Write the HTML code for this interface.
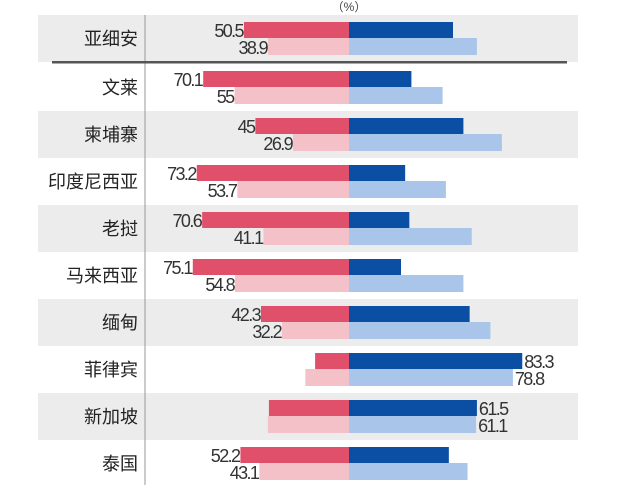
<!DOCTYPE html>
<html><head><meta charset="utf-8"><style>
html,body{margin:0;padding:0;background:#fff;}
svg{display:block;}
text{font-family:"Liberation Sans","Noto Sans CJK SC",sans-serif;}
.lab{font-size:18px;fill:#222;text-anchor:end;}
.v{font-size:18px;fill:#333;letter-spacing:-1.6px;}
</style></head><body>
<svg width="640" height="485" viewBox="0 0 640 485" xmlns="http://www.w3.org/2000/svg">
<rect width="640" height="485" fill="#fff"/>
<text x="349" y="11" font-size="12" fill="#444" text-anchor="middle">（%）</text>
<rect x="38" y="15" width="540" height="47" fill="#ececec"/>
<rect x="38" y="111" width="540" height="47" fill="#ececec"/>
<rect x="38" y="205" width="540" height="47" fill="#ececec"/>
<rect x="38" y="299" width="540" height="47" fill="#ececec"/>
<rect x="38" y="393" width="540" height="47" fill="#ececec"/>
<line x1="145" y1="15" x2="145" y2="485" stroke="#999" stroke-width="1"/>
<rect x="52" y="61" width="515" height="2.5" fill="#555"/>
<g id="bars"></g>
</svg>
<script>
var rows=[
["亚细安",50.5,38.9,50,61.5,1,0],
["文莱",70.1,55,30,45,1,0],
["柬埔寨",45,26.9,55,73.5,1,0],
["印度尼西亚",73.2,53.7,27,46.6,1,0],
["老挝",70.6,41.1,29,59,1,0],
["马来西亚",75.1,54.8,25,55,1,0],
["缅甸",42.3,32.2,58,68,1,0],
["菲律宾",16.3,21,83.3,78.8,0,1],
["新加坡",38.5,39,61.5,61.1,0,1],
["泰国",52.2,43.1,48,57,1,0]];
var s=2.08,c=349,g=document.getElementById('bars'),h='';
rows.forEach(function(r,i){
 var t=i==0?15:64+(i-1)*47;
 var a=t+7,b=t+23;
 h+='<text class="lab" x="138" y="'+(t+30)+'">'+r[0]+'</text>';
 h+='<rect x="'+(c-r[1]*s)+'" y="'+a+'" width="'+(r[1]*s)+'" height="16" fill="#e0506a"/>';
 h+='<rect x="'+(c-r[2]*s)+'" y="'+b+'" width="'+(r[2]*s)+'" height="17" fill="#f4c1c8"/>';
 h+='<rect x="'+c+'" y="'+a+'" width="'+(r[3]*s)+'" height="16" fill="#0a4fa3"/>';
 h+='<rect x="'+c+'" y="'+b+'" width="'+(r[4]*s)+'" height="17" fill="#a9c6ea"/>';
 if(r[5]){
  h+='<text class="v" text-anchor="end" x="'+(c-r[1]*s-1)+'" y="'+(a+15)+'">'+r[1]+'</text>';
  h+='<text class="v" text-anchor="end" x="'+(c-r[2]*s-1)+'" y="'+(b+16)+'">'+r[2]+'</text>';
 }
 if(r[6]){
  h+='<text class="v" x="'+(c+r[3]*s+2)+'" y="'+(a+15)+'">'+r[3]+'</text>';
  h+='<text class="v" x="'+(c+r[4]*s+2)+'" y="'+(b+16)+'">'+r[4]+'</text>';
 }
});
g.innerHTML=h;
</script>
</body></html>
